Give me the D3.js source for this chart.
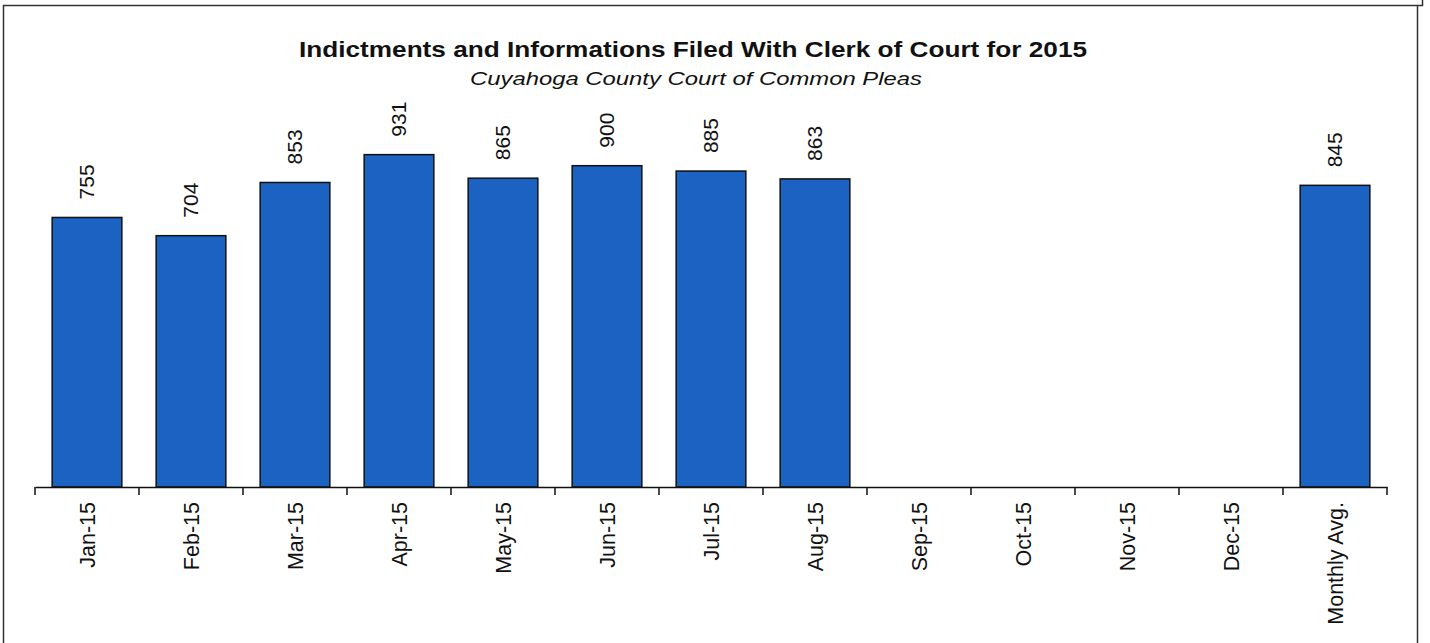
<!DOCTYPE html>
<html>
<head>
<meta charset="utf-8">
<script src="https://cdn.jsdelivr.net/npm/d3@7"></script>
<style>
	body { margin: 0; background: #fff; }
	svg { display: block; font-family: "Liberation Sans", Arial, sans-serif; }
</style>
</head>
<body>
<div id="chart"></div>
<script>
// chart data
const categories = ['Jan-15', 'Feb-15', 'Mar-15', 'Apr-15', 'May-15', 'Jun-15', 'Jul-15', 'Aug-15',
	'Sep-15', 'Oct-15', 'Nov-15', 'Dec-15', 'Monthly Avg.'];
const filings = [755, 704, 853, 931, 865, 900, 885, 863, null, null, null, null, 845];
const titleText = 'Indictments and Informations Filed With Clerk of Court for 2015';
const subtitleText = 'Cuyahoga County Court of Common Pleas';

const width = 1430, height = 643;
const margin = {top: 130, right: 43, bottom: 156, left: 35};
const barColor = '#1b62c3';

const data = categories.map((c, i) => ({cat: c, value: filings[i]}));

const svg = d3.select('#chart').append('svg')
	.attr('width', width)
	.attr('height', height);

//outer frame of the scanned page
svg.append('path')
	.attr('d', `M3.5,${height} V5.5 H1422.5 V0 M1417.5,5.5 V${height}`)
	.attr('fill', 'none')
	.attr('stroke', '#333')
	.attr('stroke-width', 1.5);

const padIn = 0.33;
const xScale = d3.scaleBand()
	.domain(categories)
	.range([margin.left, width - margin.right])
	.paddingInner(padIn)
	.paddingOuter(padIn / 2);

const yScale = d3.scaleLinear()
	.domain([0, 1000])
	.range([height - margin.bottom, margin.top]);

const y0 = yScale(0);

//title and subtitle (scan is a bit wider than the font, so stretch glyphs)
svg.append('text')
	.attr('x', 693)
	.attr('y', 57)
	.attr('text-anchor', 'middle')
	.style('font-size', '22px')
	.style('font-weight', 'bold')
	.attr('textLength', 788)
	.attr('lengthAdjust', 'spacingAndGlyphs')
	.attr('fill', '#111')
	.text(titleText);

svg.append('text')
	.attr('x', 696)
	.attr('y', 85)
	.attr('text-anchor', 'middle')
	.style('font-size', '19px')
	.style('font-style', 'italic')
	.attr('textLength', 452)
	.attr('lengthAdjust', 'spacingAndGlyphs')
	.attr('fill', '#111')
	.text(subtitleText);

//bars
const shown = data.filter(d => d.value != null);

svg.selectAll('.bar')
	.data(shown)
	.join('rect')
	.attr('class', 'bar')
	.attr('x', d => xScale(d.cat))
	.attr('y', d => yScale(d.value))
	.attr('width', xScale.bandwidth())
	.attr('height', d => y0 - yScale(d.value))
	.attr('fill', barColor)
	.attr('stroke', '#111')
	.attr('stroke-width', 1.5);

//value labels, rotated
svg.selectAll('.val')
	.data(shown)
	.join('text')
	.attr('class', 'val')
	.attr('transform', d => `translate(${xScale(d.cat) + xScale.bandwidth() / 2},${yScale(d.value) - 18}) rotate(-90)`)
	.attr('dy', '0.35em')
	.attr('text-anchor', 'start')
	.style('font-size', '21px')
	.attr('fill', '#111')
	.text(d => d.value);

//x axis: labels centered under bars, ticks on category boundaries
const xAxis = d3.axisBottom(xScale).tickSize(0).tickPadding(0);
const gx = svg.append('g')
	.attr('transform', `translate(0,${y0})`)
	.call(xAxis);
gx.select('.domain')
	.attr('stroke', '#111')
	.attr('stroke-width', 1.5);
gx.selectAll('.tick text')
	.attr('transform', 'translate(0,15) rotate(-90)')
	.attr('y', 0)
	.attr('dy', '0.35em')
	.attr('text-anchor', 'end')
	.style('font-size', '21.5px')
	.style('font-family', '"Liberation Sans", Arial, sans-serif')
	.attr('fill', '#111');

//boundary ticks between categories
const step = xScale.step();
const bounds = categories.map(c => xScale(c) - step * padIn / 2)
	.concat([xScale(categories[categories.length - 1]) + xScale.bandwidth() + step * padIn / 2]);
gx.selectAll('.bound')
	.data(bounds)
	.join('line')
	.attr('class', 'bound')
	.attr('x1', d => d)
	.attr('x2', d => d)
	.attr('y1', 0)
	.attr('y2', 8)
	.attr('stroke', '#111')
	.attr('stroke-width', 1.5);
</script>
</body>
</html>
